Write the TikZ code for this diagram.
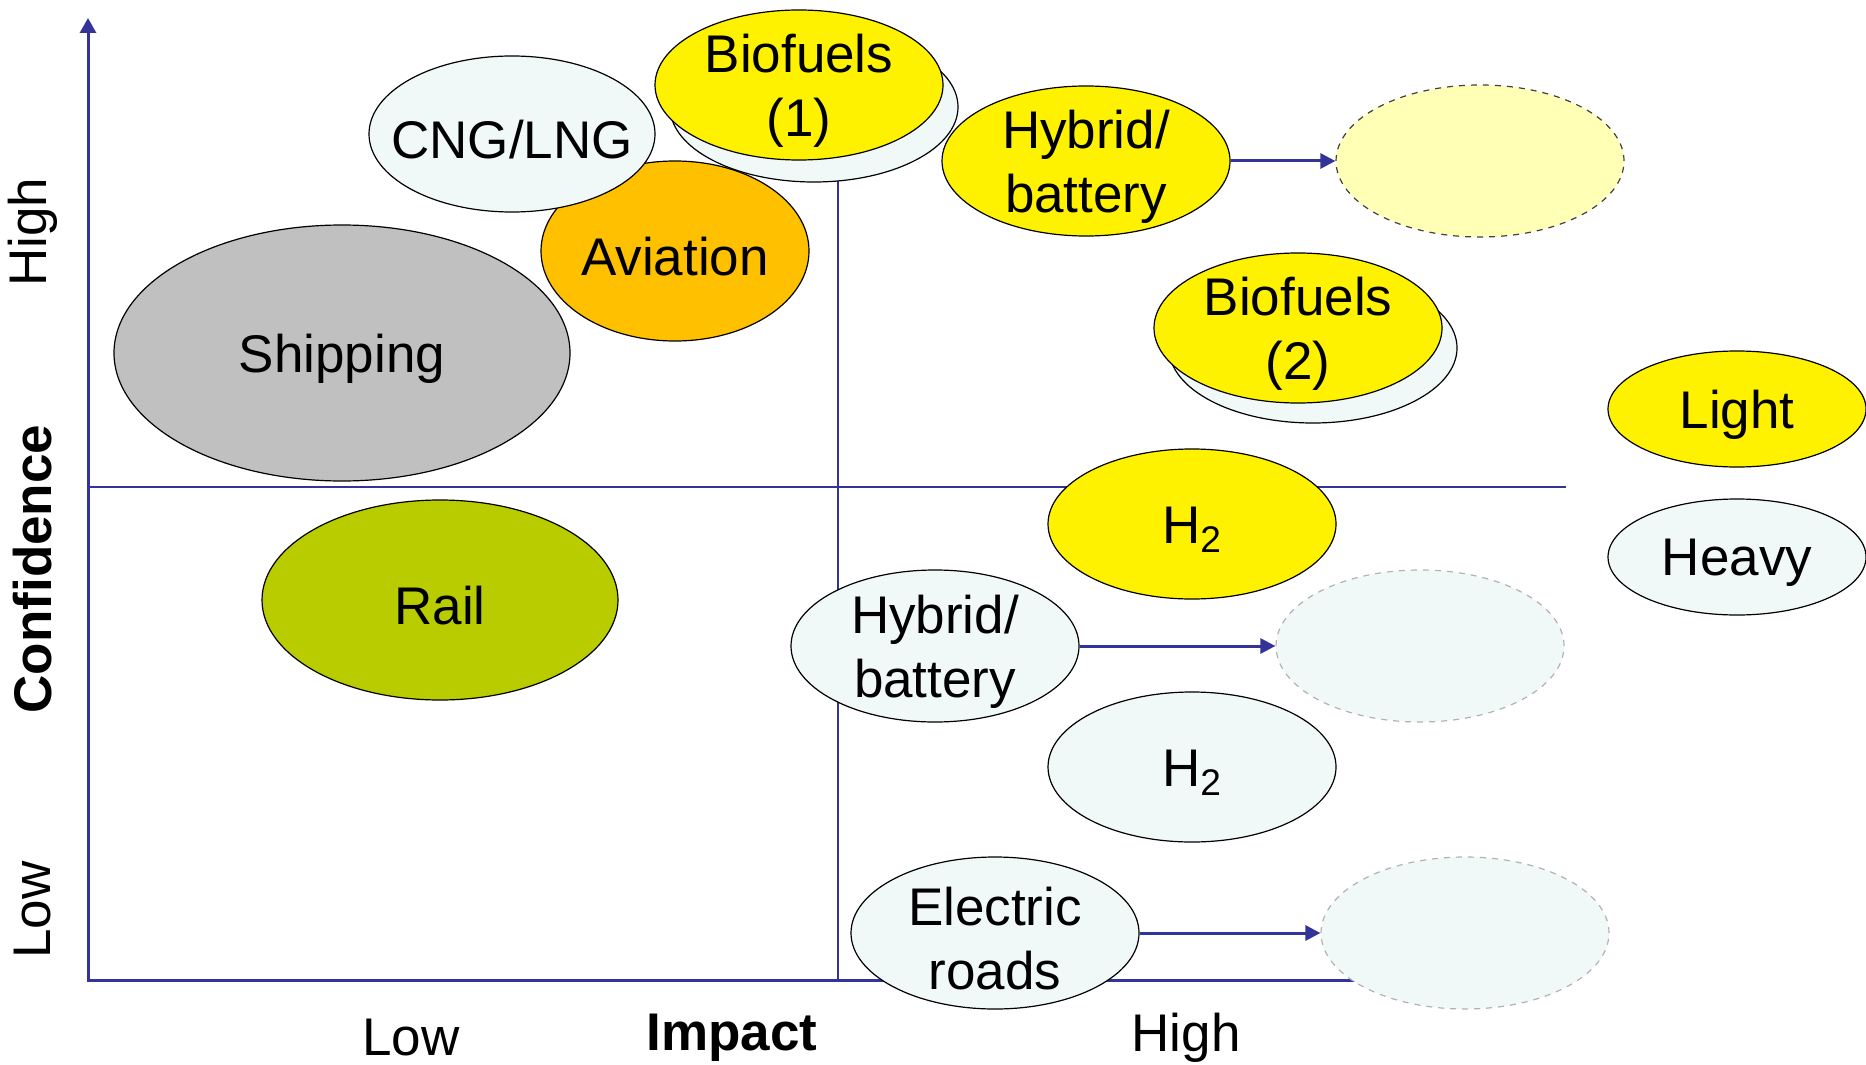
\documentclass[tikz,border=0pt]{standalone}
\usepackage{fontspec}
\setmainfont{Liberation Sans}
\usetikzlibrary{shapes.geometric, arrows.meta, positioning}

\definecolor{axisblue}{HTML}{333399}
\definecolor{paleblue}{HTML}{F0F8F8}
\definecolor{paleyellow}{HTML}{FFFFB5}
\definecolor{railgreen}{HTML}{B8CC00}
\definecolor{avorange}{HTML}{FFC000}
\definecolor{shipgray}{HTML}{C0C0C0}

\tikzset{
  bubble/.style={ellipse, draw=black, line width=0.6pt, inner sep=0pt},
  txt/.style={align=center, inner sep=0pt, yshift=-3pt,
    font=\fontsize{26.5}{32}\selectfont},
  future/.style={ellipse, dashed, line width=0.6pt, inner sep=0pt,
    minimum width=144pt, minimum height=76pt},
  flow/.style={draw=axisblue, line width=1.5pt, -{Triangle[length=7.5pt,width=7.5pt]}},
  axislabel/.style={font=\fontsize{26.5}{32}\selectfont}
}

\begin{document}
\begin{tikzpicture}[x=0.5pt, y=-0.5pt]
\useasboundingbox (0,0) rectangle (1866,1064);
% quadrant lines and axes
\coordinate (ytop) at (88,18);
\coordinate (origin) at (88,980);
\coordinate (xend) at (1380,980);
\coordinate (hleft) at (88,487);
\coordinate (hright) at (1566,487);
\coordinate (vtop) at (838,150);
\coordinate (vbot) at (838,980);
\draw[axisblue, line width=0.6pt] (hleft) -- (hright);
\draw[axisblue, line width=0.6pt] (vtop) -- (vbot);
\draw[axisblue, line width=1.5pt, -{Triangle[length=7.5pt,width=8pt]}] (xend) -- (origin) -- (ytop);

\node[axislabel, rotate=90] (yhigh) at (33,232) {High};
\node[axislabel, rotate=90, font=\fontsize{26.5}{32}\selectfont\bfseries] (ytitle) at (33,569) {Confidence};
\node[axislabel, rotate=90] (ylow) at (33,910) {Low};
\node[axislabel] (xlow) at (411,1038) {Low};
\node[axislabel, font=\fontsize{26.5}{32}\selectfont\bfseries] (xtitle) at (732,1038) {Impact};
\node[axislabel] (xhigh) at (1186,1038) {High};

% high confidence
\node[bubble, fill=shipgray, minimum width=228pt, minimum height=128pt,
  label={[txt]center:Shipping}] (ship) at (342,353) {};
\node[bubble, fill=avorange, minimum width=134pt, minimum height=90pt,
  label={[txt]center:Aviation}] (avia) at (675,251) {};
\node[bubble, fill=paleblue, minimum width=143pt, minimum height=78pt,
  label={[txt]center:CNG/LNG}] (cng) at (512,134) {};
\node[bubble, fill=paleblue, minimum width=144pt, minimum height=75pt] (bioAback) at (814,107) {};
\node[bubble, fill=yellow, minimum width=144pt, minimum height=75pt,
  label={[txt]center:{Biofuels\\(1)}}] (bioA) at (799,85) {};
\node[bubble, fill=yellow, minimum width=144pt, minimum height=75pt,
  label={[txt]center:{Hybrid/\\battery}}] (hybA) at (1086,161) {};
\node[future, draw=black!75, fill=paleyellow] (futA) at (1480,161) {};
\node[bubble, fill=paleblue, minimum width=144pt, minimum height=75pt] (bioBback) at (1313,348) {};
\node[bubble, fill=yellow, minimum width=144pt, minimum height=75pt,
  label={[txt]center:{Biofuels\\(2)}}] (bioB) at (1298,328) {};

% legend
\node[bubble, fill=yellow, minimum width=129pt, minimum height=58pt,
  label={[txt]center:Light}] (light) at (1737,409) {};
\node[bubble, fill=paleblue, minimum width=129pt, minimum height=58pt,
  label={[txt]center:Heavy}] (heavy) at (1737,557) {};

% low confidence
\node[bubble, fill=yellow, minimum width=144pt, minimum height=75pt,
  label={[txt]center:H\textsubscript{2}}] (htwoA) at (1192,524) {};
\node[bubble, fill=railgreen, minimum width=178pt, minimum height=100pt,
  label={[txt]center:Rail}] (rail) at (440,600) {};
\node[bubble, fill=paleblue, minimum width=144pt, minimum height=76pt,
  label={[txt]center:{Hybrid/\\battery}}] (hybB) at (935,646) {};
\node[future, draw=black!30, fill=paleblue] (futB) at (1420,646) {};
\node[bubble, fill=paleblue, minimum width=144pt, minimum height=75pt,
  label={[txt]center:H\textsubscript{2}}] (htwoB) at (1192,767) {};
\node[bubble, fill=paleblue, minimum width=144pt, minimum height=76pt,
  label={[txt]center:{Electric\\roads}}] (eroad) at (995,933) {};
\node[future, draw=black!30, fill=paleblue] (futC) at (1465,933) {};

\draw[flow] (hybA.east) -- (futA.west);
\draw[flow] (hybB.east) -- (futB.west);
\draw[flow] (eroad.east) -- (futC.west);
\end{tikzpicture}
\end{document}
